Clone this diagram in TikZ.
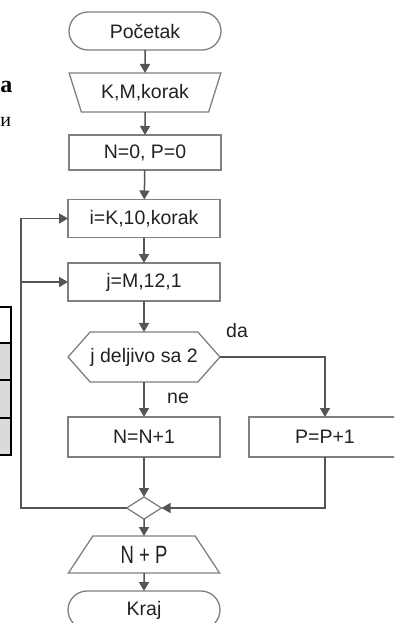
\documentclass[tikz,border=0pt]{standalone}
\usepackage{fontspec}
\setmainfont{Liberation Sans}
\newfontfamily\pagefont{Liberation Serif}
\usepackage{graphicx}
\usetikzlibrary{arrows.meta,shapes.geometric,shapes.symbols}

\definecolor{linegray}{HTML}{555555}
\definecolor{boxgray}{HTML}{808080}
\definecolor{textgray}{HTML}{222222}
\definecolor{rowgray}{HTML}{DADADA}

\begin{document}
\begin{tikzpicture}[x=1pt,y=-1pt,
  every node/.style={text=textgray, font=\fontsize{19.5}{22}\selectfont, inner sep=0pt, outer sep=0pt},
  shp/.style={draw=boxgray, line width=1.3pt, fill=white},
  box/.style={shp, rectangle, minimum width=152pt, minimum height=38pt},
  term/.style={box, rounded corners=19pt},
  io/.style={shp, trapezium, trapezium stretches=true, minimum width=152pt, minimum height=38pt},
  cond/.style={shp, signal, signal to=west and east, signal pointer angle=97, minimum width=152pt, minimum height=50pt},
  mergept/.style={shp, diamond, minimum width=35pt, minimum height=22pt},
  arr/.style={draw=linegray, line width=1.5pt, -{Triangle[length=9pt,width=10pt]}}]
\useasboundingbox (0,0) rectangle (394,623);
\clip (0,0) rectangle (394,623);

% bits of the page round the chart
\node[font=\pagefont\fontsize{24}{26}\selectfont\bfseries, text=black, anchor=base west] (pa) at (0.5,93) {a};
\node[font=\pagefont\fontsize{20}{22}\selectfont, text=black, anchor=base west] (pi) at (0.5,127) {и};
\fill[rowgray] (-5,343) rectangle (11,455);
\draw[black, line width=2pt] (-5,307) -- (11,307) -- (11,455) -- (-5,455);
\draw[black, line width=2pt] (-5,343) -- (11,343);
\draw[black, line width=2pt] (-5,380) -- (11,380);
\draw[black, line width=2pt] (-5,418) -- (11,418);

% chart
\node[term] (start) at (145,31) {Početak};
\node[io, shape border rotate=180, trapezium left angle=63, trapezium right angle=63, minimum height=39pt] (input) at (145,92.5) {K,M,korak};
\node[box, minimum height=35pt] (init) at (145,152.5) {N=0, P=0};
\node[box] (fori) at (144,218.5) {i=K,10,korak};
\node[box] (forj) at (144,282) {j=M,12,1};
\node[cond] (test) at (144,357) {j deljivo sa 2};
\node[box, minimum height=40pt] (incn) at (144,437) {N=N+1};
\node[box, minimum height=40pt] (incp) at (325,437) {P=P+1};
\node[mergept] (merge) at (144,508) {};
\node[io, trapezium left angle=57, trapezium right angle=57, minimum height=37pt] (output) at (144,554.5) {\scalebox{0.74}[1]{\fontsize{25}{28}\selectfont N + P}};
\node[term] (stop) at (144,610) {Kraj};

\node (da) at (237,331) {da};
\node (ne) at (178,398) {ne};

\coordinate (lb) at (21,508);
\coordinate (lj) at (21,282);

\draw[arr] (start) -- (input);
\draw[arr] (input) -- (init);
\draw[arr] (init) -- (fori);
\draw[arr] (fori) -- (forj);
\draw[arr] (forj) -- (test);
\draw[arr] (test) -- (incn);
\draw[arr] (test.east) -| (incp.north);
\draw[arr] (incn) -- (merge);
\draw[arr] (incp.south) |- (merge.east);
\draw[arr] (merge.west) -- (lb) |- (fori.west);
\draw[arr] (lj) -- (forj.west);
\draw[arr] (merge) -- (output);
\draw[arr] (output) -- (stop);
\end{tikzpicture}
\end{document}
